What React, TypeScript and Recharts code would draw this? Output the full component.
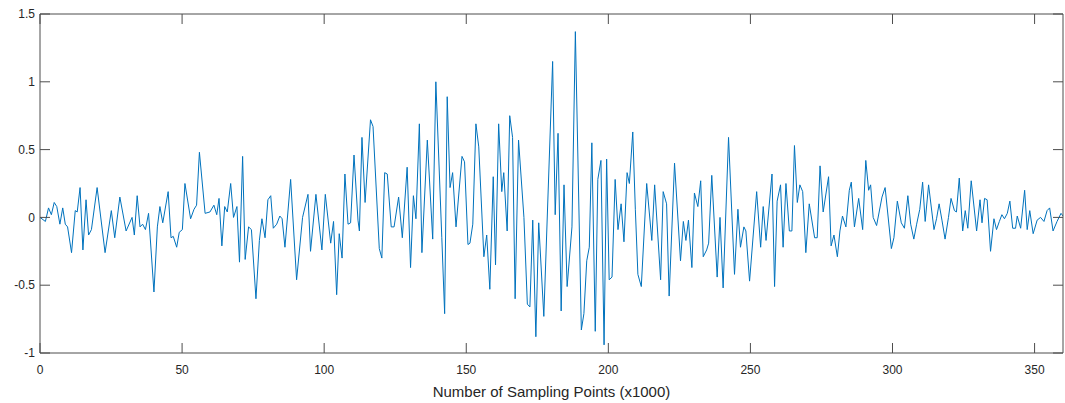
import React from 'react';
import { LineChart, Line, XAxis, YAxis } from 'recharts';

// sample positions (x1000) and amplitudes
const sampleX = [
  0, 1.9, 3, 4, 5, 5.9, 7, 8, 8.9, 9.7, 11.1, 12.4, 13.1, 14.1, 15.1, 16.2, 17.1, 18.1, 20.1, 22.9,
  25.1, 26.3, 28.1, 30.3, 32.4, 33.2, 34.2, 35.2, 36.1, 37.1, 38.2, 40.1, 41.3, 42.2, 43.2, 45.1, 46.1, 46.9, 48.1, 49,
  50.1, 51, 53, 54.2, 55.1, 56.1, 58.1, 59.8, 61.2, 62.2, 63, 64, 65, 65.9, 67.1, 68.1, 69.3, 70.2, 71.3, 72.2,
  73.4, 74.4, 76, 77.2, 78.1, 79.2, 80.2, 81.2, 82.1, 83.3, 84.4, 85.2, 86.2, 88.2, 90.3, 92.4, 94.3, 95.2, 97.1, 99.2,
  100.4, 102.3, 103.3, 104.4, 105.3, 106.3, 107.3, 108.4, 109.3, 110.5, 111.9, 112.4, 113.3, 114.4, 116.3, 117.2, 119.4, 120.3, 121.3, 122.2,
  123.6, 124.6, 126.2, 127.5, 129.2, 130.4, 131.4, 132.3, 133.5, 134.4, 136.3, 138.2, 139.3, 141.4, 142.4, 143.3, 144.3, 145.2, 146.4, 148.5,
  149.4, 150.6, 151.3, 152.3, 153.4, 154.4, 156.2, 157.2, 158.3, 159.5, 160.3, 161.4, 162.5, 163.2, 164.4, 165.3, 166.3, 167.2, 168.4, 170.3,
  171.5, 172.4, 173.4, 174.5, 175.5, 177.3, 180.4, 181.3, 182.3, 183.4, 184.4, 185.5, 187.2, 188.4, 190.5, 191.4, 192.4, 193.3, 194.2, 195.4,
  196.3, 197.4, 198.5, 199.4, 200.3, 201.3, 202.4, 203.4, 204.5, 205.5, 206.6, 207.4, 208.6, 209.5, 210.4, 211.6, 213.5, 215.3, 216.3, 218.4,
  219.3, 220.5, 221.4, 223.3, 225.4, 226.4, 227.3, 228.2, 229.4, 230.3, 231.5, 232.5, 233.4, 234.6, 235.3, 236.4, 238.3, 239.3, 240.4, 242.3,
  244.4, 245.6, 246.5, 247.7, 248.4, 249.7, 252.2, 253.6, 254.5, 255.5, 257.6, 258.5, 259.4, 260.6, 261.5, 262.5, 263.7, 264.6, 265.5, 266.5,
  267.4, 268.4, 269.5, 270.7, 272.6, 273.5, 274.5, 275.6, 277.5, 278.4, 279.4, 280.6, 281.5, 282.4, 283.6, 284.8, 285.5, 286.6, 288.1, 289.5,
  290.6, 291.6, 292.3, 293.2, 294.4, 296.3, 297.4, 299.6, 300.5, 301.7, 303.1, 304.2, 305.4, 306.4, 307.5, 308.5, 309.6, 310.6, 311.5, 312.7,
  314.6, 315.5, 316.4, 317.4, 318.5, 319.7, 320.6, 321.8, 322.5, 323.5, 324.7, 325.6, 326.5, 327.7, 329.6, 330.8, 331.5, 332.4, 333.3, 334.5,
  335.7, 336.6, 337.6, 338.5, 339.4, 340.4, 341.3, 342.3, 343.3, 343.9, 345.1, 346.5, 347.4, 348.3, 349.5, 350.9, 352.1, 353.3, 354.4, 355.3,
  356.5, 357.9, 359.3, 360,
];

const amplitude = [
  0, -0.03, 0.07, 0.02, 0.11, 0.08, -0.05, 0.07, -0.05, -0.07, -0.26, 0.05, 0.04, 0.22, -0.24, 0.13, -0.13, -0.09, 0.22, -0.26,
  0.05, -0.15, 0.15, -0.1, 0.0, -0.13, 0.16, -0.07, -0.05, -0.09, 0.03, -0.55, -0.07, 0.08, -0.04, 0.19, -0.15, -0.14, -0.22, -0.11,
  -0.09, 0.25, -0.01, 0.06, 0.09, 0.48, 0.03, 0.04, 0.09, 0.02, 0.14, -0.21, 0.08, 0.04, 0.25, 0.0, 0.08, -0.33, 0.45, -0.31,
  -0.07, -0.09, -0.6, -0.17, -0.01, -0.15, 0.13, 0.16, -0.08, -0.05, 0.01, -0.01, -0.22, 0.28, -0.46, 0.0, 0.17, -0.25, 0.17, -0.24,
  0.17, -0.19, -0.03, -0.57, -0.12, -0.3, 0.32, -0.05, -0.04, 0.46, -0.02, -0.1, 0.59, 0.11, 0.72, 0.67, -0.23, -0.3, 0.33, 0.32,
  -0.07, -0.07, 0.15, -0.15, 0.37, -0.37, 0.16, -0.01, 0.69, -0.26, 0.57, -0.16, 1.0, -0.15, -0.71, 0.89, 0.22, 0.33, -0.07, 0.45,
  0.41, -0.2, -0.19, -0.05, 0.69, 0.52, -0.29, -0.13, -0.53, 0.3, -0.35, 0.69, 0.19, 0.33, -0.1, 0.75, 0.59, -0.6, 0.57, 0.0,
  -0.64, -0.66, -0.02, -0.88, -0.04, -0.73, 1.15, 0.02, 0.62, -0.69, 0.24, -0.51, -0.07, 1.37, -0.83, -0.71, -0.32, -0.22, 0.55, -0.84,
  0.28, 0.42, -0.94, 0.43, -0.46, -0.44, 0.28, -0.09, 0.1, -0.18, 0.33, 0.25, 0.63, 0.06, -0.42, -0.51, 0.25, -0.17, 0.24, -0.46,
  0.19, 0.1, -0.58, 0.4, -0.32, -0.03, -0.17, -0.02, -0.37, 0.18, 0.08, 0.27, -0.29, -0.24, -0.19, 0.31, -0.44, 0.0, -0.52, 0.59,
  -0.42, 0.06, -0.22, -0.07, -0.1, -0.47, 0.19, -0.22, 0.08, -0.17, 0.32, -0.51, 0.12, 0.24, -0.22, 0.25, -0.1, -0.1, 0.53, 0.11,
  0.24, 0.19, -0.26, 0.1, -0.15, -0.15, 0.38, 0.04, 0.3, -0.21, -0.13, -0.29, -0.1, 0.01, -0.07, 0.2, 0.26, -0.07, 0.14, -0.09,
  0.42, 0.2, 0.24, 0.0, -0.06, 0.15, 0.22, -0.23, -0.15, 0.12, -0.04, -0.08, 0.16, -0.05, -0.16, -0.05, 0.06, 0.26, -0.03, 0.24,
  -0.09, -0.01, 0.1, -0.02, -0.16, 0.0, 0.14, 0.05, 0.04, 0.29, -0.1, 0.05, -0.08, 0.27, -0.1, 0.13, -0.04, 0.14, 0.13, -0.25,
  -0.01, -0.09, -0.03, 0.02, -0.01, 0.03, 0.12, -0.08, -0.08, 0.01, -0.08, 0.2, -0.09, 0.05, -0.12, -0.02, 0.0, -0.03, 0.05, 0.07,
  -0.1, -0.03, 0.03, 0.01,
];

const xTicks = [0, 50, 100, 150, 200, 250, 300, 350];
const yTicks = [-1, -0.5, 0, 0.5, 1, 1.5];

const data = sampleX.map((x, i) => ({ x, y: amplitude[i] }));

const AXIS = '#4d4d4d';
const TEXT = '#262626';
const FONT = '"Liberation Sans", Arial, sans-serif';

const NoLabel = () => <g />;

const App: React.FC = () => {
  return (
    <div style={{ position: 'absolute', left: 0, top: 0, background: '#fff' }}>
      <LineChart width={1065} height={403} data={data} margin={{ top: 0, right: 0, bottom: 0, left: 0 }}>
        <XAxis
          dataKey="x"
          type="number"
          domain={[0, 360]}
          ticks={xTicks}
          allowDataOverflow
          height={50}
          stroke={AXIS}
          tickSize={-10}
          tickMargin={22}
          tick={{ fill: TEXT, fontSize: 12, fontFamily: FONT }}
          label={{
            value: 'Number of Sampling Points (x1000)',
            position: 'insideBottom',
            offset: 6,
            fill: TEXT,
            fontSize: 15,
            fontFamily: FONT,
          }}
        />
        <XAxis
          xAxisId="top"
          dataKey="x"
          type="number"
          orientation="top"
          domain={[0, 360]}
          ticks={xTicks}
          allowDataOverflow
          height={14}
          stroke={AXIS}
          tickSize={-10}
          tick={NoLabel}
        />
        <YAxis
          type="number"
          domain={[-1, 1.5]}
          ticks={yTicks}
          allowDataOverflow
          width={40}
          stroke={AXIS}
          tickSize={-10}
          tickMargin={15}
          tick={{ fill: TEXT, fontSize: 12, fontFamily: FONT }}
        />
        <YAxis
          yAxisId="right"
          orientation="right"
          type="number"
          domain={[-1, 1.5]}
          ticks={yTicks}
          allowDataOverflow
          width={2}
          stroke={AXIS}
          tickSize={-10}
          tick={NoLabel}
        />
        <Line
          type="linear"
          dataKey="y"
          stroke="#0072BD"
          strokeWidth={1}
          dot={false}
          isAnimationActive={false}
        />
      </LineChart>
    </div>
  );
};

export default App;
